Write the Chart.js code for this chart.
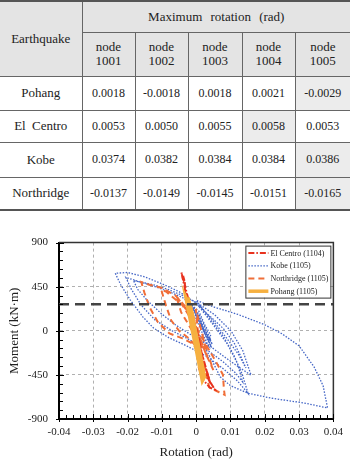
<!DOCTYPE html>
<html>
<head>
<meta charset="utf-8">
<script src="https://cdn.jsdelivr.net/npm/chart.js@4/dist/chart.umd.min.js"></script>
<style>
    body { margin: 0; width: 350px; height: 462px; background: #fff; overflow: hidden; position: relative; }
    #tbl {
        position: absolute; top: 0; left: 0; width: 350px;
        border-collapse: collapse; table-layout: fixed;
        font-family: 'Liberation Serif', 'Times New Roman', serif; color: #222;
        border-top: 2px solid #555; border-bottom: 2px solid #555;
    }
    #tbl th, #tbl td { border: 1px solid #666; text-align: center; padding: 0; font-weight: normal; white-space: nowrap; }
    #tbl tr > :first-child { border-left: none; }
    #tbl tr > :last-child { border-right: none; }
    #tbl th { background: #e4e4e4; font-size: 13px; }
    #tbl th.top { word-spacing: 5px; }
    #tbl th.node { line-height: 14px; }
    #tbl td { font-size: 12px; }
    #tbl td.eq { font-size: 13px; word-spacing: 3px; }
    #tbl td.shade { background: #ececec; }
    #chartBox { position: absolute; left: 0; top: 225px; width: 350px; height: 237px; }
</style>
</head>
<body>
<table id="tbl"></table>
<div id="chartBox"><canvas id="hystChart"></canvas></div>
<script>
// Table data
const earthquakes = ['Pohang', 'El Centro', 'Kobe', 'Northridge'];
const nodes = ['1001', '1002', '1003', '1004', '1005'];
const pohangRow = ['0.0018', '-0.0018', '0.0018', '0.0021', '-0.0029'];
const elCentroRow = ['0.0053', '0.0050', '0.0055', '0.0058', '0.0053'];
const kobeRow = ['0.0374', '0.0382', '0.0384', '0.0384', '0.0386'];
const northridgeRow = ['-0.0137', '-0.0149', '-0.0145', '-0.0151', '-0.0165'];
const shadedCol = [4, 3, 4, 4]; // highlighted node per earthquake

// Chart data: rotation (rad) / moment (kN·m)
const kobeRot = [0, 0.002, 0.0035, 0.002, 0, -0.0005, 0.001, 0.003, 0.0045, 0.003, 0.001, -0.001, 0.0005, 0.0025, 0.004, 0.0025, 0.0005, -0.0015,
    0.001, 0.003, 0.0047, 0.0035, 0.0015, 0.0003, 0.002, 0.004, 0.0042, 0.0025, 0.0008,
    -0.004, -0.008, -0.012, -0.0155, -0.0183, -0.017, -0.014, -0.010, -0.006, -0.002, 0.003, 0.008, 0.012, 0.016, 0.0136, 0.0102, 0.0054, 0.0006,
    -0.004, -0.008, -0.0125, -0.0165, -0.0205, -0.019, -0.016, -0.012, -0.007, -0.002, 0.003, 0.008, 0.0115, 0.0135, 0.012, 0.009, 0.005, 0.001,
    0.004, 0.008, 0.011, 0.013, 0.0145, 0.0125, 0.009, 0.005, 0.001,
    -0.005, -0.010, -0.015, -0.020, -0.0236, -0.022, -0.0192, -0.0155, -0.0125, -0.008, -0.003, 0.003, 0.008, 0.012, 0.0151, 0.0135, 0.011, 0.008, 0.004, 0,
    0.0054, 0.0122, 0.0199, 0.025, 0.030, 0.0344, 0.037, 0.0383, 0.0315, 0.0218, 0.0151, 0.010, 0.007, 0.005, 0.003, 0.002];
const kobeMom = [0, -90, -150, -40, 120, 200, 80, -60, -170, -70, 90, 230, 120, 0, -120, -20, 140, 270,
    160, 10, -140, -60, 90, 180, 30, -100, -40, 60, 200,
    340, 400, 450, 490, 513, 420, 300, 170, 60, -30, -130, -260, -360, -453, -203, -3, 163, 280,
    360, 420, 470, 500, 545, 430, 260, 110, 0, -90, -190, -320, -430, -520, -330, -130, 60, 240,
    150, 20, -120, -260, -380, -250, -80, 100, 260,
    400, 480, 550, 595, 587, 470, 313, 140, 30, -70, -150, -260, -390, -510, -637, -450, -250, -60, 120, 310,
    240, 167, 63, -30, -153, -370, -560, -787, -737, -687, -637, -560, -470, -330, -200, -100];

const northRot = [0, -0.002, -0.003, -0.001, 0.002, 0.003, 0.001,
    -0.003, -0.0059, -0.0049, -0.0044, -0.002, 0.001, 0.004, 0.005, 0.003,
    -0.002, -0.006, -0.0102, -0.0136, -0.016,
    -0.0151, -0.0136, -0.0112, -0.0078, -0.004, -0.001, 0.002, 0.0038, 0.0067, 0.0083,
    0.0081, 0.0078, 0.006, 0.003, 0, -0.004, -0.0088, -0.0102, -0.0088, -0.0073, -0.005, -0.002, 0.001,
    -0.0001, 0.0028, 0.0005];
const northMom = [0, 150, 250, 80, -150, -250, -60,
    220, 357, 250, 190, 50, -120, -300, -400, -250,
    200, 360, 440, 470, 497,
    390, 240, 90, -27, -77, -130, -300, -577, -627, -653,
    -600, -450, -330, -150, 40, 260, 400, 420, 257, 107, 0, -80, -200,
    223, -177, -100];

const elcRot = [0, -0.0005, 0.0005, -0.001, 0.0002, -0.0015, -0.0005, -0.0025, -0.002, -0.0035, -0.0025, -0.0043, -0.004, -0.0032, -0.0038, -0.003,
    -0.0015, 0, 0.0012, 0.0005, 0.002, 0.001, 0.003, 0.0022, 0.0038, 0.0028, 0.0042, 0.003, 0.001, 0.002, 0.004, 0.0055, 0.004, 0.0025, 0.001, -0.0005];
const elcMom = [0, 80, -60, 150, -20, 240, 100, 330, 260, 430, 300, 597, 540, 480, 560, 420,
    220, 30, -150, -60, -280, -150, -400, -330, -480, -390, -540, -450, -400, -500, -580, -600, -520, -350, -180, 40];

const pohangRot = [-0.0008, -0.0016, -0.0006, 0.0004, -0.0012, -0.0022, -0.003, -0.002, -0.0011, 0, 0.001, 0.0018,
    0.0024, 0.0019, 0.0009, -0.0002, -0.0012, -0.0024, -0.0018, -0.0004, 0.0008, 0.0015, 0.0005, -0.0006];
const pohangMom = [0, 150, -20, -200, 120, 280, 340, 160, 0, -190, -370, -510,
    -470, -370, -190, 0, 180, 340, 200, -20, -260, -400, -180, 30];

const yieldRot = [-0.04, 0.04];
const yieldMom = [270, 270];

const xTicks = [-0.04, -0.03, -0.02, -0.01, 0, 0.01, 0.02, 0.03, 0.04];
const yTicks = [-900, -450, 0, 450, 900];

// Build table
function buildTable() {
    const tbl = document.getElementById('tbl');
    const colW = [82, 53, 53, 54, 53, 55];
    let html = '<colgroup>' + colW.map(w => '<col style="width:' + w + 'px">').join('') + '</colgroup>';
    html += '<tr style="height:31px"><th rowspan="2">Earthquake</th><th class="top" colspan="5">Maximum rotation (rad)</th></tr>';
    html += '<tr style="height:44px">' + nodes.map(n => '<th class="node">node<br>' + n + '</th>').join('') + '</tr>';
    const rows = [pohangRow, elCentroRow, kobeRow, northridgeRow];
    const heights = [34, 32, 35, 33];
    rows.forEach((row, i) => {
        html += '<tr style="height:' + heights[i] + 'px"><td class="eq">' + earthquakes[i] + '</td>';
        row.forEach((v, j) => {
            html += '<td' + (shadedCol[i] === j ? ' class="shade"' : '') + '>' + v + '</td>';
        });
        html += '</tr>';
    });
    tbl.innerHTML = html;
}
buildTable();

function toPoints(xs, ys) {
    return xs.map((x, i) => ({ x: x, y: ys[i] }));
}

const serif = "'Liberation Serif', 'Times New Roman', serif";

// Inside tick marks + top/right frame
const framePlugin = {
    id: 'frame',
    afterDraw(chart) {
        const { ctx, chartArea: a, scales: { x, y } } = chart;
        ctx.save();
        ctx.strokeStyle = '#333';
        ctx.lineWidth = 1.5;
        ctx.beginPath();
        ctx.moveTo(a.left, a.top);
        ctx.lineTo(a.right, a.top);
        ctx.lineTo(a.right, a.bottom);
        ctx.stroke();

        ctx.strokeStyle = '#000';
        ctx.lineWidth = 1;
        ctx.beginPath();
        for (let i = 0; i < yTicks.length; i++) {
            const py = Math.round(y.getPixelForValue(yTicks[i])) + 0.5;
            ctx.moveTo(a.left - 3, py); ctx.lineTo(a.left + 5, py);
            if (i < yTicks.length - 1) {
                const step = (yTicks[i + 1] - yTicks[i]) / 5;
                for (let k = 1; k < 5; k++) {
                    const my = Math.round(y.getPixelForValue(yTicks[i] + k * step)) + 0.5;
                    ctx.moveTo(a.left, my); ctx.lineTo(a.left + 4, my);
                }
            }
        }
        for (let i = 0; i < xTicks.length; i++) {
            const px = Math.round(x.getPixelForValue(xTicks[i])) + 0.5;
            ctx.moveTo(px, a.bottom + 3); ctx.lineTo(px, a.bottom - 5);
            if (i < xTicks.length - 1) {
                const step = (xTicks[i + 1] - xTicks[i]) / 5;
                for (let k = 1; k < 5; k++) {
                    const mx = Math.round(x.getPixelForValue(xTicks[i] + k * step)) + 0.5;
                    ctx.moveTo(mx, a.bottom); ctx.lineTo(mx, a.bottom - 4);
                }
            }
        }
        ctx.stroke();
        ctx.restore();
    }
};

// Boxed legend inside the plot, top right
const boxLegendPlugin = {
    id: 'boxLegend',
    afterDraw(chart) {
        const { ctx, chartArea: a } = chart;
        const items = chart.data.datasets.filter(d => d.inLegend);
        const w = 85, h = 52;
        const left = a.right - 3 - w, top = a.top + 3;
        ctx.save();
        ctx.fillStyle = '#fff';
        ctx.fillRect(left, top, w, h);
        ctx.strokeStyle = '#333';
        ctx.lineWidth = 1;
        ctx.strokeRect(left + 0.5, top + 0.5, w, h);
        ctx.font = '8px ' + serif;
        ctx.textBaseline = 'middle';
        items.forEach((d, i) => {
            const cy = top + 7.5 + i * 12.7;
            ctx.strokeStyle = d.borderColor;
            ctx.lineWidth = d.borderWidth;
            ctx.setLineDash(d.borderDash || []);
            ctx.beginPath();
            ctx.moveTo(left + 3, cy);
            ctx.lineTo(left + 23, cy);
            ctx.stroke();
            ctx.setLineDash([]);
            ctx.fillStyle = '#222';
            ctx.fillText(d.label, left + 25, cy + 0.5);
        });
        ctx.restore();
    }
};

const ctx = document.getElementById('hystChart');
new Chart(ctx, {
    type: 'scatter',
    data: {
        datasets: [{
            label: 'El Centro (1104)',
            data: toPoints(elcRot, elcMom),
            borderColor: '#e8321e',
            borderWidth: 2,
            borderDash: [6, 2, 1.5, 2],
            inLegend: true,
            order: 1
        }, {
            label: 'Kobe (1105)',
            data: toPoints(kobeRot, kobeMom),
            borderColor: '#4466c6',
            borderWidth: 1.3,
            borderDash: [1.5, 1.5],
            inLegend: true,
            order: 3
        }, {
            label: 'Northridge (1105)',
            data: toPoints(northRot, northMom),
            borderColor: '#f06e38',
            borderWidth: 2,
            borderDash: [6, 4],
            inLegend: true,
            order: 2
        }, {
            label: 'Pohang (1105)',
            data: toPoints(pohangRot, pohangMom),
            borderColor: '#f6b040',
            borderWidth: 3.5,
            inLegend: true,
            order: 0
        }, {
            label: 'yield',
            data: toPoints(yieldRot, yieldMom),
            borderColor: '#444',
            borderWidth: 2.5,
            borderDash: [10, 6],
            inLegend: false,
            order: -1
        }].map(d => Object.assign({ showLine: true, pointRadius: 0, tension: 0, fill: false }, d))
    },
    options: {
        responsive: true,
        maintainAspectRatio: false,
        animation: false,
        devicePixelRatio: 1,
        layout: { padding: { left: 0, right: 15, top: 14, bottom: 0 } },
        plugins: {
            legend: { display: false },
            tooltip: { enabled: false }
        },
        scales: {
            x: {
                type: 'linear',
                min: -0.04,
                max: 0.04,
                afterBuildTicks: s => { s.ticks = xTicks.map(v => ({ value: v })); },
                afterFit: s => { s.height = 43; },
                grid: { color: '#b0b0b0', lineWidth: 1, drawTicks: false },
                border: { display: true, color: '#000', width: 2, dash: [3, 3] },
                ticks: {
                    padding: 7,
                    color: '#222',
                    font: { family: serif, size: 11 },
                    callback: v => String(v)
                },
                title: {
                    display: true,
                    text: 'Rotation (rad)',
                    color: '#222',
                    font: { family: serif, size: 13 },
                    padding: { top: 0, bottom: 2 }
                }
            },
            y: {
                type: 'linear',
                min: -900,
                max: 900,
                afterBuildTicks: s => { s.ticks = yTicks.map(v => ({ value: v })); },
                afterFit: s => { s.width = 59; },
                grid: { color: '#b0b0b0', lineWidth: 1, drawTicks: false },
                border: { display: true, color: '#000', width: 2, dash: [3, 3] },
                ticks: {
                    padding: 11,
                    color: '#222',
                    font: { family: serif, size: 11 },
                    callback: v => String(v)
                },
                title: {
                    display: true,
                    text: 'Moment (kN·m)',
                    color: '#222',
                    font: { family: serif, size: 13 },
                    padding: { top: 7, bottom: 0 }
                }
            }
        }
    },
    plugins: [framePlugin, boxLegendPlugin]
});
</script>
</body>
</html>
